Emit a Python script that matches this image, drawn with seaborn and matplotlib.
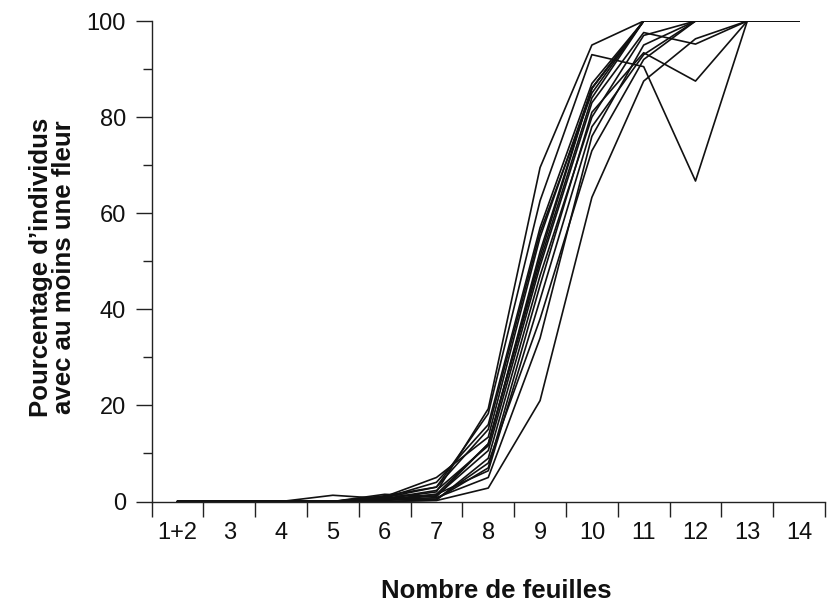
import numpy as np
import pandas as pd
import seaborn as sns
import matplotlib.pyplot as plt
from matplotlib.ticker import MultipleLocator, FixedLocator

# categories on the x axis
categories = ['1+2', '3', '4', '5', '6', '7', '8', '9', '10', '11', '12', '13', '14']

# % of individuals with at least one flower, one list per population
pop01 = [0, 0, 0, 1.3, 0.6, 2.0, 19.3, 69.5, 95.0, 100, 100, 100, 100]
pop02 = [0, 0, 0, 0, 0.8, 3.0, 18.3, 62.6, 93.0, 90.5, 66.7, 100, 100]
pop03 = [0, 0, 0, 0, 1.0, 5.0, 13.4, 55, 86, 100, 100, 100, 100]
pop04 = [0, 0, 0, 0, 0.6, 2.3, 11.6, 52, 86, 100, 100, 100, 100]
pop05 = [0, 0, 0, 0, 1.2, 3.0, 15, 56, 85, 100, 100, 100, 100]
pop06 = [0, 0, 0, 0, 0.3, 1.2, 10.6, 49, 83, 97.6, 95.2, 100, 100]
pop07 = [0, 0, 0, 0, 1.5, 1.0, 12, 51, 86, 100, 100, 100, 100]
pop08 = [0, 0, 0, 0, 0.5, 0.5, 7.0, 45, 81, 93.4, 87.5, 100, 100]
pop09 = [0, 0, 0, 0, 0.2, 1.5, 6.4, 42, 78, 93, 100, 100, 100]
pop10 = [0, 0, 0, 0, 0, 0.3, 9, 47, 80, 97, 100, 100, 100]
pop11 = [0, 0, 0, 0, 0.3, 0.5, 8, 38, 73, 92, 100, 100, 100]
pop12 = [0, 0, 0, 0, 0, 0.2, 2.8, 21, 63.3, 87.5, 96.3, 100, 100]
pop13 = [0, 0, 0, 0, 0.5, 1.5, 12, 50, 84, 100, 100, 100, 100]
pop14 = [0, 0, 0, 0, 0.8, 4.0, 16, 57, 87, 100, 100, 100, 100]
pop15 = [0, 0, 0, 0, 0.4, 0.8, 5, 34, 76, 95, 100, 100, 100]

series = [pop01, pop02, pop03, pop04, pop05, pop06, pop07, pop08,
          pop09, pop10, pop11, pop12, pop13, pop14, pop15]

rows = []
for k, vals in enumerate(series):
    for i, v in enumerate(vals):
        rows.append({'pop': k, 'pos': i, 'pct': v})
df = pd.DataFrame(rows)

sns.set_style('ticks')
plt.rcParams['font.family'] = ['Liberation Sans', 'DejaVu Sans']

fig = plt.figure(figsize=(8.27, 6.11), dpi=100)
ax = fig.add_axes([0.1832, 0.1792, 0.8144, 0.7864])

sns.lineplot(data=df, x='pos', y='pct', units='pop', estimator=None,
             color='#111111', linewidth=1.2, ax=ax, legend=False)

ax.set_xlim(-0.5, 12.5)
ax.set_ylim(0, 100)
sns.despine(ax=ax)
for s in ['left', 'bottom']:
    ax.spines[s].set_linewidth(1.0)
    ax.spines[s].set_color('#222222')

# x: labels at category centres, tick marks at boundaries
ax.xaxis.set_major_locator(FixedLocator(range(len(categories))))
ax.set_xticklabels(categories)
ax.xaxis.set_minor_locator(FixedLocator(np.arange(-0.5, len(categories), 1.0)))
ax.tick_params(axis='x', which='major', length=0, pad=15, labelsize=17, colors='#111111')
ax.tick_params(axis='x', which='minor', length=10.8, width=1.0, color='#222222')

# y: major every 20, minor every 10
ax.yaxis.set_major_locator(MultipleLocator(20))
ax.yaxis.set_minor_locator(MultipleLocator(10))
ax.tick_params(axis='y', which='major', length=11.5, width=1.0, pad=7, labelsize=17,
               color='#222222', labelcolor='#111111')
ax.tick_params(axis='y', which='minor', length=6.5, width=1.0, color='#222222')

ax.set_xlabel('')
ax.set_ylabel('')
fig.text(0.600, 0.0213, 'Nombre de feuilles', ha='center', va='baseline',
         fontsize=18.5, fontweight='bold', color='#111111')
fig.text(0.064, 0.562, 'Pourcentage d\u2019individus\navec au moins une fleur',
         ha='center', va='center', rotation=90, multialignment='center',
         fontsize=18.5, fontweight='bold', color='#111111', linespacing=0.95)

fig.savefig('out.png', dpi=100, facecolor='white')
